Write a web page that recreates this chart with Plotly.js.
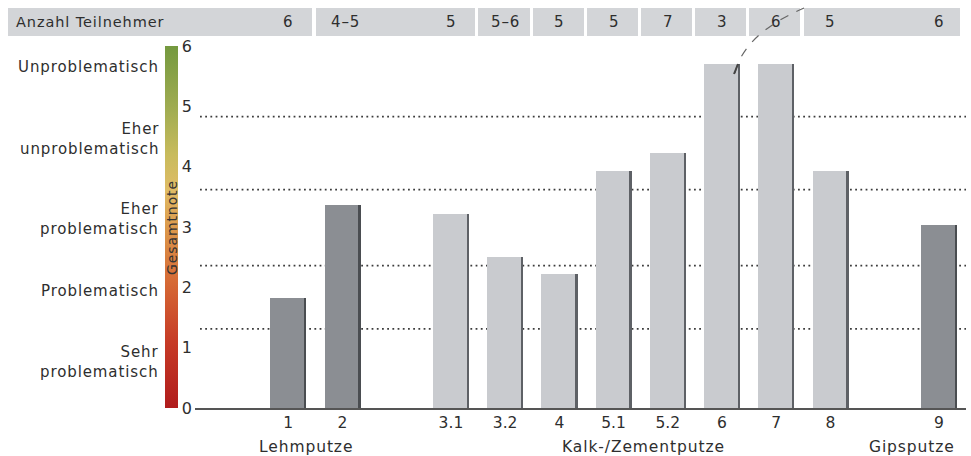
<!DOCTYPE html>
<html>
<head>
<meta charset="utf-8">
<script src="https://cdn.plot.ly/plotly-3.0.1.min.js"></script>
<style>
  html, body { margin: 0; padding: 0; background: #ffffff; }
  #chart { width: 971px; height: 456px; }
  .annotation-text { letter-spacing: 0.9px; }
</style>
</head>
<body>
<div id="chart"></div>
<script>
// ---- data ----
const labels = ['1', '2', '3.1', '3.2', '4', '5.1', '5.2', '6', '7', '8', '9'];
const groups = ['Lehmputze', 'Lehmputze', 'Kalk-/Zementputze', 'Kalk-/Zementputze', 'Kalk-/Zementputze',
                'Kalk-/Zementputze', 'Kalk-/Zementputze', 'Kalk-/Zementputze', 'Kalk-/Zementputze',
                'Kalk-/Zementputze', 'Gipsputze'];
const scores = [1.82, 3.37, 3.22, 2.50, 2.22, 3.93, 4.23, 5.70, 5.70, 3.93, 3.03];
const participants = ['6', '4–5', '5', '5–6', '5', '5', '7', '3', '6', '5', '6'];
const groupNames = ['Lehmputze', 'Kalk-/Zementputze', 'Gipsputze'];
const ratingLabels = ['Sehr<br>problematisch', 'Problematisch', 'Eher<br>problematisch',
                      'Eher<br>unproblematisch', 'Unproblematisch'];
const ratingCenters = [0.76, 1.94, 3.13, 4.46, 5.65];
const thresholds = [1.31, 2.36, 3.62, 4.83];
const yTicks = [0, 1, 2, 3, 4, 5, 6];
const participantsTitle = 'Anzahl Teilnehmer';
const scaleTitle = 'Gesamtnote';

// ---- derived positions: one empty slot between material groups ----
const W = 971, H = 456;
const plotTop = 46, plotBottom = 408;
const xs = labels.map((_, i) => i + groupNames.indexOf(groups[i]));
const barColors = groups.map(g => g === 'Kalk-/Zementputze' ? '#c9cbcf' : '#8b8e93');
const edgeColors = groups.map(g => g === 'Kalk-/Zementputze' ? '#5e6166' : '#4a4d51');
const FONT = 'DejaVu Sans, sans-serif';
const TXT = '#2e2e2e';
const py = p => (plotBottom - p) / (plotBottom - plotTop);   // pixel y -> paper y
const px = p => p / W;                                       // pixel x -> paper x

const traces = [
  {
    type: 'bar', x: xs, y: scores, width: 0.66,
    marker: { color: barColors, line: { width: 0 } },
    hoverinfo: 'x+y', showlegend: false
  },
  {
    type: 'bar', x: xs, y: scores, width: 0.045, offset: 0.29,
    marker: { color: edgeColors, line: { width: 0 } },
    hoverinfo: 'skip', showlegend: false
  },
  {
    type: 'scatter', mode: 'markers', x: [-100], y: [-100],
    hoverinfo: 'skip', showlegend: false,
    marker: {
      color: [0], cmin: 0, cmax: 6, showscale: true,
      colorscale: [
        [0.0, '#b01c1c'], [0.18, '#c63a26'], [0.35, '#d66a35'], [0.5, '#dc9a4c'],
        [0.6, '#e0bc66'], [0.7, '#c8bb5c'], [0.82, '#a2ad52'], [1.0, '#74993f']
      ],
      colorbar: {
        x: px(165), xanchor: 'left', xref: 'paper', xpad: 0,
        y: 0, yanchor: 'bottom', yref: 'paper', ypad: 0,
        len: 1, lenmode: 'fraction', thickness: 13, thicknessmode: 'pixels',
        outlinewidth: 0, showticklabels: false, ticks: ''
      }
    }
  }
];

const shapes = [];
// dotted threshold lines
thresholds.forEach(t => shapes.push({
  type: 'line', xref: 'paper', yref: 'y', x0: px(200), x1: px(966), y0: t, y1: t,
  line: { color: '#3c3c3c', width: 1.8, dash: '1.8px,3.4px' }, layer: 'below'
}));
// participant header boxes (pixel edges)
const boxEdges = [[8, 312], [316, 475], [478, 530], [533, 584], [587, 638], [641, 692], [695, 746], [749, 800], [804, 960]];
boxEdges.forEach(b => shapes.push({
  type: 'rect', xref: 'paper', yref: 'paper', x0: px(b[0]), x1: px(b[1]), y0: py(36), y1: py(8),
  fillcolor: '#d3d5d8', line: { width: 0 }, layer: 'below'
}));
// dashed curved pointer from bar 6 to header
shapes.push({
  type: 'path', xref: 'paper', yref: 'paper',
  path: `M ${px(735)},${py(73)} Q ${px(744)},${py(34)} ${px(804)},${py(8)}`,
  line: { color: '#666', width: 1.2, dash: 'dash' }
});
shapes.push({
  type: 'path', xref: 'paper', yref: 'paper',
  path: `M ${px(734)},${py(74)} L ${px(738)},${py(64)}`,
  line: { color: '#444', width: 2 }
});

const annotations = [];
annotations.push({
  xref: 'paper', yref: 'paper', x: px(14), y: py(22), xanchor: 'left', yanchor: 'middle',
  text: participantsTitle, showarrow: false, font: { family: FONT, size: 14.5, color: TXT }
});
participants.forEach((p, i) => {
  let anchor = 'center', xv = xs[i];
  if (i === 1) { anchor = 'left'; xv = xs[i] - 0.24; }
  annotations.push({
    xref: 'x', yref: 'paper', x: xv, y: py(22), xanchor: anchor, yanchor: 'middle',
    text: p, showarrow: false, font: { family: FONT, size: 15, color: TXT }
  });
});
// rating labels
ratingLabels.forEach((t, i) => annotations.push({
  xref: 'paper', yref: 'y', x: px(161), y: ratingCenters[i], xanchor: 'right', yanchor: 'middle',
  text: t, align: 'right', showarrow: false, font: { family: FONT, size: 15, color: TXT }
}));
// scale title inside colour bar
annotations.push({
  xref: 'paper', yref: 'paper', x: px(172), y: py(228), xanchor: 'center', yanchor: 'middle',
  text: scaleTitle, textangle: -90, showarrow: false, font: { family: FONT, size: 14, color: '#333' }
});
// group labels
groupNames.forEach(g => {
  const idx = xs.filter((_, i) => groups[i] === g);
  const mid = (Math.min(...idx) + Math.max(...idx)) / 2;
  const last = g === 'Gipsputze';
  const first = g === 'Lehmputze';
  annotations.push({
    xref: 'x', yref: 'paper', x: last ? mid + 0.33 : (first ? mid - 0.17 : mid + 0.05), y: py(447),
    xanchor: last ? 'right' : 'center', yanchor: 'middle',
    text: g, showarrow: false, font: { family: FONT, size: 15.5, color: TXT }
  });
});

const layout = {
  width: W, height: H,
  margin: { l: 0, r: 0, t: plotTop, b: H - plotBottom, pad: 0 },
  paper_bgcolor: '#ffffff', plot_bgcolor: '#ffffff',
  showlegend: false, barmode: 'overlay', bargap: 0,
  font: { family: FONT, size: 15, color: TXT },
  xaxis: {
    domain: [px(195), px(966)], range: [-1.72, 12.5],
    tickvals: xs, ticktext: labels, ticks: '', showgrid: false, zeroline: false,
    showline: true, linecolor: '#555', linewidth: 1.5,
    tickfont: { family: FONT, size: 15.5, color: TXT }, fixedrange: true
  },
  yaxis: {
    range: [0, 6], tickvals: yTicks, showgrid: false, zeroline: false, showline: false,
    ticks: '', ticklabelstandoff: 2,
    tickfont: { family: FONT, size: 16, color: TXT }, fixedrange: true
  },
  shapes: shapes,
  annotations: annotations
};

Plotly.newPlot('chart', traces, layout, { displayModeBar: false, staticPlot: true });
</script>
</body>
</html>
